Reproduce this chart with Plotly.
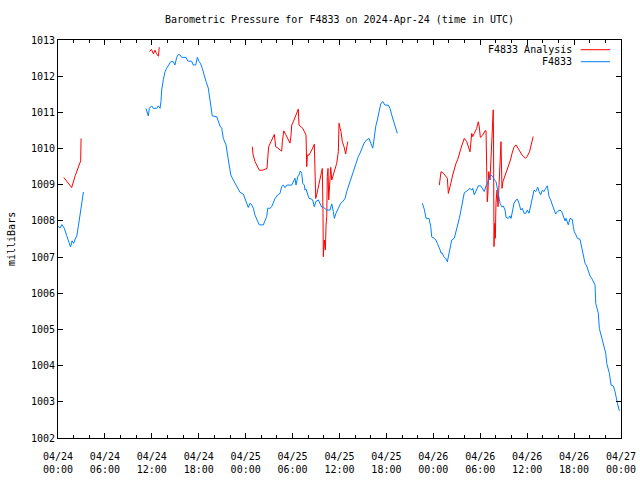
import pandas as pd
import plotly.graph_objects as go

BASE = pd.Timestamp("2024-04-24 00:00")

# (hours since 2024-04-24 00:00 UTC, millibars)
f4833_seg1 = [(0.0, 1007.85), (0.25, 1007.8), (0.5, 1007.9), (0.8, 1007.8), (1.1, 1007.6), (1.4, 1007.4),
              (1.6, 1007.28), (1.8, 1007.45), (2.0, 1007.38), (2.2, 1007.5), (2.4, 1007.58), (2.6, 1007.85),
              (2.8, 1008.15), (3.0, 1008.55), (3.25, 1008.8)]

f4833_seg2 = [(11.25, 1011.11), (11.55, 1010.90), (11.68, 1011.11), (11.98, 1011.18), (12.19, 1011.11),
              (12.62, 1011.11), (12.83, 1011.18), (13.05, 1011.11), (13.17, 1011.30), (13.26, 1011.62),
              (13.47, 1011.90), (13.68, 1012.12), (13.90, 1012.22), (14.11, 1012.28), (14.41, 1012.40),
              (14.75, 1012.40), (14.96, 1012.31), (15.18, 1012.52), (15.39, 1012.60), (15.60, 1012.59),
              (15.82, 1012.52), (16.37, 1012.52), (16.59, 1012.42), (17.10, 1012.41), (17.30, 1012.31),
              (17.61, 1012.31), (17.82, 1012.52), (18.03, 1012.41), (18.25, 1012.34), (18.45, 1012.22),
              (18.67, 1012.03), (18.93, 1011.85), (19.22, 1011.67), (19.44, 1011.39), (19.57, 1011.11),
              (19.73, 1010.90), (20.30, 1010.88), (20.50, 1010.74), (20.72, 1010.62), (20.94, 1010.56),
              (21.14, 1010.28), (21.49, 1010.10), (21.70, 1009.87), (21.85, 1009.60), (22.0, 1009.41),
              (22.1, 1009.27), (22.42, 1009.13), (22.73, 1009.01), (23.06, 1008.90), (23.28, 1008.79),
              (23.70, 1008.74), (23.92, 1008.58), (24.13, 1008.49), (24.34, 1008.37), (24.56, 1008.49),
              (24.77, 1008.44), (24.98, 1008.35), (25.19, 1008.16), (25.41, 1008.03), (25.74, 1007.89),
              (26.26, 1007.89), (26.47, 1007.98), (26.69, 1008.12), (26.82, 1008.35), (27.11, 1008.35),
              (27.33, 1008.39), (27.54, 1008.53), (27.75, 1008.62), (28.10, 1008.72), (28.39, 1008.76),
              (28.61, 1008.95), (28.81, 1008.99), (29.03, 1008.92), (29.25, 1008.99), (29.89, 1008.99),
              (30.09, 1009.08), (30.31, 1009.18), (30.44, 1008.99), (30.66, 1009.22), (30.82, 1009.27),
              (30.99, 1009.38), (31.17, 1009.32), (31.30, 1009.04), (31.50, 1008.99), (31.59, 1008.85),
              (31.72, 1008.88), (31.93, 1008.76), (32.10, 1008.62), (32.36, 1008.61), (32.57, 1008.58),
              (32.78, 1008.39), (32.96, 1008.53), (33.29, 1008.58), (33.51, 1008.49), (33.73, 1008.38),
              (33.93, 1008.38), (34.37, 1008.30), (34.79, 1008.30), (35.01, 1008.47), (35.21, 1008.26),
              (35.34, 1008.07), (35.55, 1008.21), (35.85, 1008.35), (36.16, 1008.49), (36.41, 1008.53),
              (36.71, 1008.62), (36.92, 1008.81), (37.13, 1008.95), (37.35, 1009.13), (37.56, 1009.27),
              (37.86, 1009.45), (38.20, 1009.64), (38.41, 1009.78), (38.62, 1009.87), (38.84, 1010.01),
              (39.14, 1010.15), (39.48, 1010.24), (39.78, 1010.28), (39.99, 1010.15), (40.25, 1010.01),
              (40.41, 1010.24), (40.63, 1010.61), (40.84, 1010.79), (41.05, 1011.02), (41.27, 1011.23),
              (41.53, 1011.30), (41.82, 1011.20), (42.24, 1011.20), (42.46, 1011.11), (42.68, 1010.93),
              (42.88, 1010.79), (43.10, 1010.65), (43.39, 1010.42)]

f4833_seg3 = [(46.59, 1008.49), (46.85, 1008.32), (47.07, 1008.07), (47.45, 1008.07), (47.67, 1007.84),
              (47.79, 1007.56), (48.09, 1007.52), (48.34, 1007.47), (48.51, 1007.38), (48.73, 1007.29),
              (48.86, 1007.20), (48.98, 1007.11), (49.15, 1007.11), (49.33, 1007.01), (49.58, 1006.97),
              (49.79, 1006.87), (49.92, 1007.01), (50.13, 1007.24), (50.35, 1007.47), (50.68, 1007.52),
              (50.86, 1007.66), (51.07, 1007.84), (51.32, 1008.07), (51.54, 1008.30), (51.75, 1008.53),
              (51.96, 1008.78), (52.18, 1008.81), (52.47, 1008.85), (52.69, 1008.90), (52.91, 1008.85),
              (53.04, 1008.90), (53.24, 1008.72), (53.46, 1008.81), (53.75, 1008.97), (54.06, 1008.97),
              (54.31, 1008.90), (54.52, 1008.81), (54.74, 1008.97), (54.96, 1009.06), (55.12, 1009.18),
              (55.34, 1009.27), (55.59, 1009.23), (55.80, 1009.13), (56.02, 1009.09), (56.31, 1008.67),
              (56.53, 1008.49), (56.75, 1008.39), (56.95, 1008.41), (57.17, 1008.30), (57.30, 1008.10),
              (57.59, 1008.07), (57.81, 1008.14), (57.94, 1008.07), (58.15, 1008.30), (58.32, 1008.49),
              (58.58, 1008.58), (58.75, 1008.60), (58.96, 1008.49), (59.18, 1008.30), (59.38, 1008.35),
              (59.60, 1008.21), (59.82, 1008.21), (60.02, 1008.30), (60.24, 1008.21), (60.45, 1008.44),
              (60.66, 1008.62), (60.88, 1008.85), (61.10, 1008.81), (61.35, 1008.93), (61.52, 1008.81),
              (61.73, 1008.72), (61.94, 1008.85), (62.16, 1008.81), (62.37, 1008.90), (62.58, 1008.97),
              (62.80, 1008.67), (63.01, 1008.58), (63.22, 1008.44), (63.43, 1008.30), (63.65, 1008.19),
              (63.86, 1008.26), (64.20, 1008.30), (64.42, 1008.26), (64.63, 1008.14), (64.84, 1008.00),
              (64.97, 1008.07), (65.26, 1007.89), (65.48, 1008.07), (65.77, 1008.04), (65.90, 1007.84),
              (66.03, 1007.70), (66.25, 1007.61), (66.42, 1007.52), (66.76, 1007.49), (66.98, 1007.24),
              (67.18, 1007.06), (67.40, 1006.83), (67.62, 1006.75), (67.82, 1006.62), (68.04, 1006.48),
              (68.26, 1006.41), (68.46, 1006.34), (68.68, 1006.23), (68.77, 1005.72), (68.93, 1005.54),
              (69.10, 1005.45), (69.23, 1005.03), (69.45, 1004.85), (69.66, 1004.62), (69.87, 1004.52),
              (70.05, 1004.34), (70.18, 1004.06), (70.38, 1003.88), (70.51, 1003.79), (70.73, 1003.46),
              (71.02, 1003.44), (71.24, 1003.28), (71.37, 1003.10), (71.54, 1002.96), (71.79, 1002.75)]

analysis_seg1 = [(0.75, 1009.2), (1.2, 1009.08), (1.75, 1008.92), (2.2, 1009.25), (2.6, 1009.5),
                 (2.9, 1009.66), (2.95, 1010.28)]

analysis_seg2 = [(11.7, 1012.68), (11.95, 1012.74), (12.2, 1012.62), (12.4, 1012.72), (12.6, 1012.62),
                 (12.85, 1012.55), (12.95, 1012.8)]

analysis_seg3 = [(24.85, 1010.05), (24.94, 1009.84), (25.19, 1009.64), (25.45, 1009.53), (25.75, 1009.40),
                 (26.13, 1009.40), (26.47, 1009.44), (26.73, 1009.45), (26.82, 1009.73), (26.94, 1010.05),
                 (27.24, 1010.19), (27.46, 1010.28), (27.67, 1010.39), (27.84, 1010.05), (28.10, 1010.02),
                 (28.39, 1009.96), (28.61, 1009.93), (28.69, 1010.19), (28.87, 1010.49), (29.12, 1010.39),
                 (29.38, 1010.28), (29.67, 1010.15), (29.80, 1010.37), (29.89, 1010.65), (30.09, 1010.74),
                 (30.31, 1010.88), (30.53, 1010.97), (30.73, 1011.09), (30.82, 1010.65), (31.08, 1010.60),
                 (31.30, 1010.56), (31.50, 1010.47), (31.72, 1010.37), (31.81, 1009.50), (31.89, 1009.82),
                 (32.10, 1009.82), (32.36, 1009.91), (32.52, 1009.99), (32.78, 1010.12), (32.87, 1009.36),
                 (32.96, 1008.62), (33.08, 1008.72), (33.29, 1008.95), (33.51, 1009.13), (33.64, 1009.27),
                 (33.80, 1009.45), (33.89, 1008.21), (33.93, 1007.01), (34.06, 1007.47), (34.19, 1007.20),
                 (34.28, 1007.89), (34.37, 1008.12), (34.44, 1009.23), (34.53, 1009.45), (34.62, 1008.58),
                 (34.70, 1008.95), (34.79, 1009.18), (34.88, 1009.48), (35.01, 1009.13), (35.21, 1009.27),
                 (35.43, 1009.45), (35.64, 1009.59), (35.85, 1009.91), (35.94, 1010.70), (36.07, 1010.56),
                 (36.19, 1010.47), (36.36, 1010.19), (36.58, 1010.05), (36.79, 1009.85), (36.92, 1010.01),
                 (37.05, 1010.19)]

analysis_seg4 = [(48.77, 1008.99), (48.98, 1009.36), (49.28, 1009.32), (49.58, 1009.22), (49.79, 1009.18),
                 (49.92, 1008.76), (50.04, 1008.90), (50.26, 1009.06), (50.48, 1009.27), (50.68, 1009.45),
                 (50.90, 1009.59), (51.12, 1009.70), (51.32, 1009.87), (51.54, 1010.01), (51.75, 1010.15),
                 (51.96, 1010.28), (52.27, 1010.19), (52.47, 1010.07), (52.69, 1009.91), (52.91, 1010.42),
                 (53.04, 1010.33), (53.24, 1010.42), (53.55, 1010.56), (53.75, 1010.74), (53.88, 1010.60),
                 (54.01, 1010.31), (54.31, 1010.37), (54.61, 1010.49), (54.74, 1010.49), (54.82, 1009.50),
                 (54.90, 1008.53), (54.98, 1008.76), (55.08, 1009.36), (55.25, 1009.13), (55.38, 1009.82),
                 (55.50, 1010.42), (55.60, 1010.97), (55.66, 1011.07), (55.70, 1010.24), (55.76, 1007.29),
                 (55.85, 1007.93), (55.93, 1007.52), (56.01, 1008.49), (56.14, 1008.85), (56.27, 1008.39),
                 (56.40, 1008.85), (56.52, 1009.55), (56.65, 1010.19), (56.78, 1008.90), (56.91, 1009.09),
                 (57.13, 1009.22), (57.42, 1009.41), (57.64, 1009.55), (57.86, 1009.68), (58.07, 1009.87),
                 (58.33, 1010.05), (58.58, 1010.10), (58.93, 1009.96), (59.35, 1009.82), (59.79, 1009.73),
                 (60.00, 1009.78), (60.30, 1009.91), (60.55, 1010.10), (60.77, 1010.33)]

y_ticks = list(range(1002, 1014))
x_tick_hours = list(range(0, 73, 6))

FONT = "DejaVu Sans Mono"


def join_segments(segments):
    xs, ys = [], []
    for seg in segments:
        for h, p in seg:
            xs.append(BASE + pd.Timedelta(hours=h))
            ys.append(p)
        xs.append(None)
        ys.append(None)
    return xs, ys


ax_x, ax_y = join_segments([analysis_seg1, analysis_seg2, analysis_seg3, analysis_seg4])
ob_x, ob_y = join_segments([f4833_seg1, f4833_seg2, f4833_seg3])

RED = "#ff0000"
BLUE = "#0080ff"

fig = go.Figure()
fig.add_trace(go.Scatter(x=ax_x, y=ax_y, mode="lines", name="F4833 Analysis",
                         line=dict(color=RED, width=1), connectgaps=False, showlegend=False))
fig.add_trace(go.Scatter(x=ob_x, y=ob_y, mode="lines", name="F4833",
                         line=dict(color=BLUE, width=1), connectgaps=False, showlegend=False))

tickvals = [BASE + pd.Timedelta(hours=h) for h in x_tick_hours]
ticktext = [t.strftime("%m/%d<br>%H:%M") for t in tickvals]

W, H = 640, 480
fig.update_layout(
    width=W, height=H,
    margin=dict(l=58, r=19, t=40, b=42, autoexpand=False),
    paper_bgcolor="white", plot_bgcolor="white",
    font=dict(family=FONT, size=10, color="black"),
    title=dict(text="Barometric Pressure for F4833 on 2024-Apr-24 (time in UTC)",
               x=339.5 / W, xanchor="center", y=1 - 19 / H, yanchor="middle",
               yref="container", font=dict(family=FONT, size=10, color="black")),
    xaxis=dict(range=[BASE, BASE + pd.Timedelta(hours=72)], tickvals=tickvals, ticktext=ticktext,
               ticks="inside", ticklen=5, tickcolor="black", mirror="allticks", showline=True,
               linecolor="black", linewidth=1, showgrid=False, zeroline=False, automargin=False,
               ticklabelstandoff=9,
               minor=dict(dtick=2 * 3600 * 1000, tick0=BASE, ticks="inside", ticklen=3,
                          tickcolor="black", showgrid=False),
               tickfont=dict(family=FONT, size=10)),
    yaxis=dict(range=[1002, 1013], tickvals=y_ticks, ticks="inside", ticklen=5, tickcolor="black",
               mirror="allticks", showline=True, linecolor="black", linewidth=1, showgrid=False,
               zeroline=False, automargin=False, tickfont=dict(family=FONT, size=10)),
)

fig.add_annotation(text="milliBars", xref="paper", yref="paper", x=(11 - 58) / 563, y=0.5,
                   textangle=-90, showarrow=False, xanchor="center", yanchor="middle",
                   font=dict(family=FONT, size=10))

legend_items = [("F4833 Analysis", RED, (438 - 49.7) / 398), ("F4833", BLUE, (438 - 61.7) / 398)]
for label, color, ly in legend_items:
    fig.add_annotation(text=label, xref="paper", yref="paper", x=(574 - 58) / 563, y=ly,
                       xanchor="right", yanchor="middle", showarrow=False,
                       font=dict(family=FONT, size=10))
    fig.add_shape(type="line", xref="paper", yref="paper", x0=(580.7 - 58) / 563, x1=(610 - 58) / 563,
                  y0=ly, y1=ly, line=dict(color=color, width=1))

fig.write_html("out.html", config={"displayModeBar": False},
               post_script="document.body.style.margin='0';document.body.style.overflow='hidden';")
